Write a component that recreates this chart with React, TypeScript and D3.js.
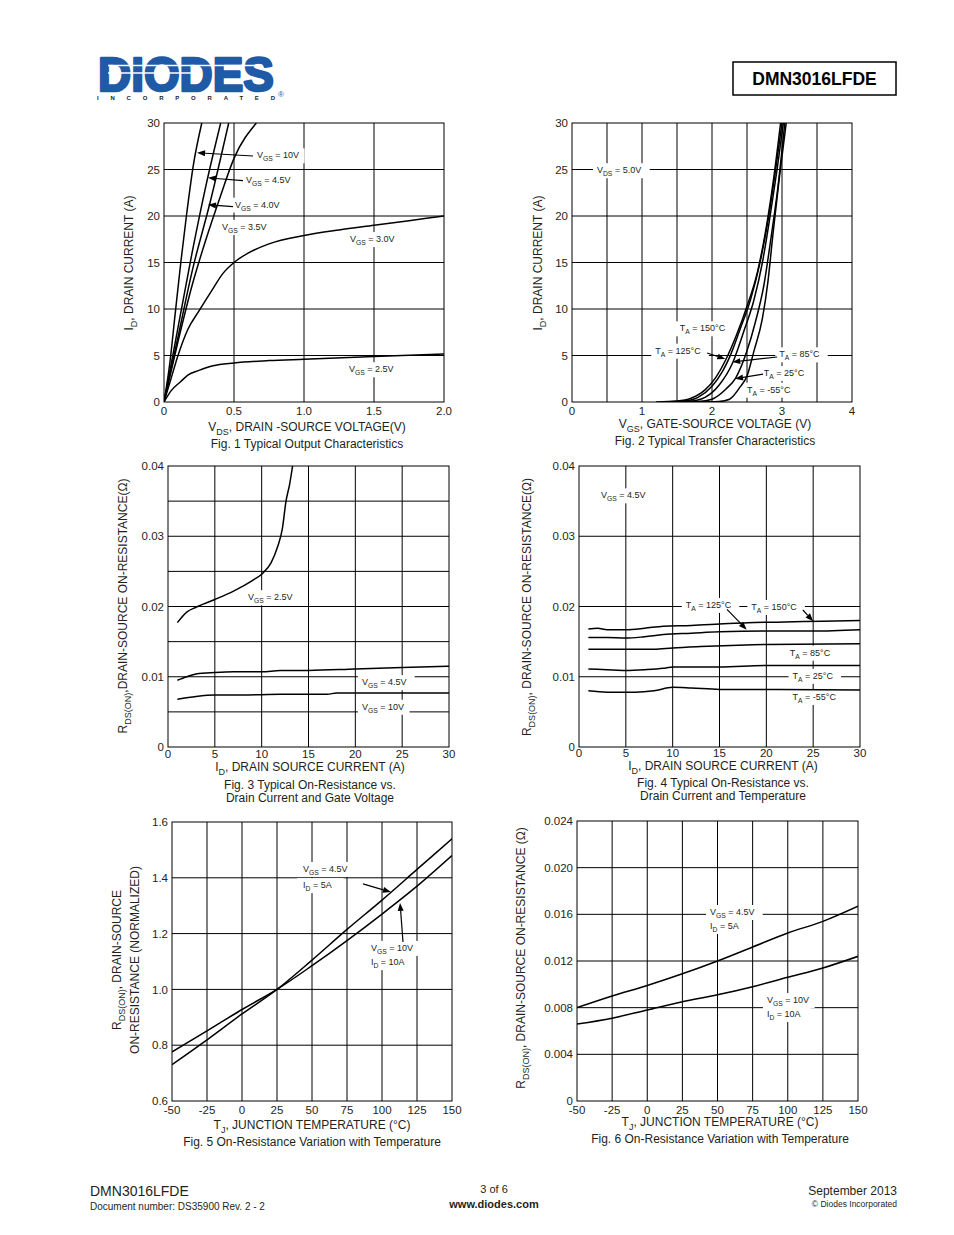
import React from "react";
import * as d3 from "d3";

const FONT = "'Liberation Sans', Arial, Helvetica, sans-serif";
const INK = "#231f20";

type Pt = [number, number];
type Part = string | [string];

// ---- Fig. 1 Typical Output Characteristics (VDS V, ID A)
const f1XTicks = [0, 0.5, 1.0, 1.5, 2.0];
const f1YTicks = [0, 5, 10, 15, 20, 25, 30];
const f1Vgs10: Pt[] = [[0, 0], [0.04, 4], [0.08, 9.5], [0.12, 15], [0.16, 20], [0.21, 25.5], [0.27, 30]];
const f1Vgs45: Pt[] = [[0, 0], [0.1, 8], [0.2, 16], [0.3, 23.3], [0.405, 30]];
const f1Vgs40: Pt[] = [[0, 0], [0.1, 7], [0.2, 14], [0.33, 21.5], [0.462, 30]];
const f1Vgs35: Pt[] = [[0, 0], [0.1, 6.5], [0.2, 12.5], [0.3, 17.5], [0.4, 22], [0.5, 26.2], [0.66, 30]];
const f1Vgs30: Pt[] = [[0, 0], [0.05, 2.5], [0.1, 5], [0.17, 7.8], [0.25, 9.8], [0.35, 12.2], [0.42, 13.8], [0.5, 15], [0.6, 16], [0.75, 17], [1.0, 17.9], [1.25, 18.5], [1.5, 19], [1.75, 19.5], [2.0, 20]];
const f1Vgs25: Pt[] = [[0, 0], [0.05, 1.2], [0.12, 2.2], [0.17, 2.9], [0.25, 3.4], [0.35, 3.9], [0.5, 4.2], [0.75, 4.45], [1.0, 4.6], [1.5, 4.9], [2.0, 5.15]];

// ---- Fig. 2 Typical Transfer Characteristics (VGS V, ID A)
const f2XTicks = [0, 1, 2, 3, 4];
const f2YTicks = [0, 5, 10, 15, 20, 25, 30];
const f2T150: Pt[] = [[1.2, 0], [1.5, 0.1], [1.7, 0.4], [1.9, 1.3], [2.05, 2.6], [2.2, 4.6], [2.35, 7.2], [2.5, 10.3], [2.65, 14], [2.78, 19], [2.88, 24], [2.98, 30]];
const f2T125: Pt[] = [[1.3, 0], [1.6, 0.1], [1.8, 0.5], [2.0, 1.7], [2.15, 3.3], [2.25, 4.8], [2.4, 7.8], [2.55, 11], [2.68, 14.8], [2.8, 19.5], [2.9, 24.5], [3.0, 30]];
const f2T85: Pt[] = [[1.4, 0], [1.7, 0.1], [1.9, 0.5], [2.1, 1.8], [2.3, 4.3], [2.45, 7.5], [2.6, 11], [2.72, 15], [2.83, 20], [2.93, 25], [3.02, 30]];
const f2T25: Pt[] = [[1.5, 0], [1.8, 0.05], [2.0, 0.3], [2.2, 1.4], [2.34, 2.6], [2.5, 5.5], [2.62, 8.6], [2.74, 12.5], [2.84, 17.5], [2.94, 23], [3.04, 30]];
const f2Tm55: Pt[] = [[1.7, 0], [2.1, 0.05], [2.25, 0.3], [2.4, 1.6], [2.5, 2.8], [2.6, 5.5], [2.72, 9], [2.8, 13], [2.87, 18], [2.96, 24], [3.06, 30]];

// ---- Fig. 3 On-resistance vs drain current and gate voltage (ID A, R ohm)
const f3XTicks = [0, 5, 10, 15, 20, 25, 30];
const f3YTicks = [0, 0.01, 0.02, 0.03, 0.04];
const f3Vgs25: Pt[] = [[1, 0.0177], [2, 0.0192], [3, 0.0199], [5, 0.021], [7, 0.0222], [9, 0.0237], [10, 0.0246], [11, 0.0262], [11.7, 0.0285], [12.2, 0.031], [12.6, 0.035], [13, 0.0375], [13.3, 0.04]];
const f3Vgs45: Pt[] = [[1, 0.0095], [2, 0.01], [3, 0.0104], [5, 0.0106], [7, 0.0107], [10, 0.0107], [12, 0.0109], [15, 0.0109], [20, 0.0111], [25, 0.0113], [30, 0.0115]];
const f3Vgs10: Pt[] = [[1, 0.0068], [3, 0.0072], [5, 0.0074], [8, 0.0074], [12, 0.0075], [17, 0.0075], [18, 0.0077], [30, 0.0077]];

// ---- Fig. 4 On-resistance vs drain current and temperature
const f4T150: Pt[] = [[1, 0.0168], [2, 0.0169], [3, 0.0167], [5, 0.0167], [7, 0.0169], [9, 0.0172], [12, 0.0173], [15, 0.0175], [18, 0.0177], [22, 0.0178], [26, 0.0179], [30, 0.018]];
const f4T125: Pt[] = [[1, 0.0156], [3, 0.0156], [5, 0.0155], [7, 0.0157], [9, 0.016], [12, 0.0162], [15, 0.0164], [20, 0.0165], [25, 0.0165], [30, 0.0167]];
const f4T85: Pt[] = [[1, 0.0139], [5, 0.0139], [8, 0.0139], [10, 0.0141], [13, 0.0143], [17, 0.0145], [20, 0.0146], [30, 0.0147]];
const f4T25: Pt[] = [[1, 0.0111], [3, 0.011], [5, 0.0109], [7, 0.011], [9, 0.0112], [10, 0.0114], [15, 0.0114], [20, 0.0116], [30, 0.0116]];
const f4Tm55: Pt[] = [[1, 0.008], [3, 0.0078], [6, 0.0078], [8, 0.008], [10, 0.0085], [12, 0.0084], [15, 0.0082], [20, 0.0082], [30, 0.0081]];

// ---- Fig. 5 normalized on-resistance vs junction temperature
const tjTicks = [-50, -25, 0, 25, 50, 75, 100, 125, 150];
const f5YTicks = [0.6, 0.8, 1.0, 1.2, 1.4, 1.6];
const f5Vgs45: Pt[] = [[-50, 0.73], [-25, 0.819], [0, 0.912], [25, 1.0], [50, 1.105], [75, 1.215], [100, 1.32], [125, 1.43], [150, 1.54]];
const f5Vgs10: Pt[] = [[-50, 0.776], [-25, 0.851], [0, 0.928], [25, 1.0], [50, 1.085], [75, 1.175], [100, 1.27], [125, 1.37], [150, 1.48]];

// ---- Fig. 6 on-resistance vs junction temperature
const f6YTicks = [0, 0.004, 0.008, 0.012, 0.016, 0.02, 0.024];
const f6Vgs45: Pt[] = [[-50, 0.008], [-25, 0.009], [0, 0.0099], [25, 0.0109], [50, 0.012], [75, 0.0132], [100, 0.0144], [125, 0.0154], [150, 0.0167]];
const f6Vgs10: Pt[] = [[-50, 0.0066], [-25, 0.0071], [0, 0.0078], [25, 0.0085], [50, 0.0091], [75, 0.0098], [100, 0.0106], [125, 0.0114], [150, 0.0124]];

function estWidth(parts: Part[], size: number) {
  let w = 0;
  for (const p of parts) {
    if (typeof p === "string") w += p.length * size * 0.56;
    else w += p[0].length * size * 0.75 * 0.62;
  }
  return w;
}

function Txt({ x, y, parts, size = 9, anchor = "start", rotate = false, weight = "normal", fill = INK }: {
  x: number; y: number; parts: Part[]; size?: number; anchor?: string; rotate?: boolean; weight?: string; fill?: string;
}) {
  const sub = size * 0.75;
  const shift = size * 0.32;
  let down = false;
  const spans = parts.map((p, i) => {
    if (typeof p === "string") {
      const dy = down ? -shift : 0;
      down = false;
      return <tspan key={i} dy={dy} fontSize={size}>{p}</tspan>;
    }
    const dy = down ? 0 : shift;
    down = true;
    return <tspan key={i} dy={dy} fontSize={sub}>{p[0]}</tspan>;
  });
  return (
    <text x={rotate ? 0 : x} y={rotate ? 0 : y} fontFamily={FONT} fontSize={size} textAnchor={anchor as any} fontWeight={weight} fill={fill}
      transform={rotate ? `translate(${x},${y}) rotate(-90)` : undefined}>
      {spans}
    </text>
  );
}

interface Lab { at: Pt; parts: Part[]; bg?: boolean; pad?: number }
interface Arr { from: Pt; to: Pt }

function Panel({ id, box, xDomain, yDomain, xGrid, yGrid, xTicks, yTicks, xFmt, yFmt, series, labels = [], arrows = [], tickDy = 13 }: {
  id: string; box: [number, number, number, number]; xDomain: [number, number]; yDomain: [number, number];
  xGrid: number[]; yGrid: number[]; xTicks: number[]; yTicks: number[];
  xFmt: (v: number) => string; yFmt: (v: number) => string; series: Pt[][]; labels?: Lab[]; arrows?: Arr[]; tickDy?: number;
}) {
  const [l, t, r, b] = box;
  const x = d3.scaleLinear().domain(xDomain).range([l, r]);
  const y = d3.scaleLinear().domain(yDomain).range([b, t]);
  const line = d3.line<Pt>().x((d) => x(d[0])).y((d) => y(d[1])).curve(d3.curveMonotoneX);
  const size = 9;
  return (
    <g>
      <defs>
        <clipPath id={id}><rect x={l} y={t} width={r - l} height={b - t} /></clipPath>
      </defs>
      {xGrid.map((v) => <line key={"xg" + v} x1={x(v)} x2={x(v)} y1={t} y2={b} stroke="#000" strokeWidth={1} />)}
      {yGrid.map((v) => <line key={"yg" + v} x1={l} x2={r} y1={y(v)} y2={y(v)} stroke="#000" strokeWidth={1} />)}
      <rect x={l} y={t} width={r - l} height={b - t} fill="none" stroke="#000" strokeWidth={1} />
      {labels.filter((d) => d.bg).map((d, i) => {
        const w = estWidth(d.parts, size);
        const pad = d.pad ?? 4;
        return <rect key={"bg" + i} x={x(d.at[0]) - pad} y={y(d.at[1]) - size - 1} width={w + 2 * pad} height={size + 6} fill="#fff" />;
      })}
      <g clipPath={`url(#${id})`}>
        {series.map((s, i) => <path key={i} d={line(s) ?? ""} fill="none" stroke="#000" strokeWidth={1.5} />)}
      </g>
      {labels.map((d, i) => <Txt key={"lb" + i} x={x(d.at[0])} y={y(d.at[1])} parts={d.parts} size={size} />)}
      {arrows.map((a, i) => {
        const x1 = x(a.from[0]), y1 = y(a.from[1]), x2 = x(a.to[0]), y2 = y(a.to[1]);
        const ang = Math.atan2(y2 - y1, x2 - x1);
        const hl = 8, hw = 3;
        const bx = x2 - hl * Math.cos(ang), by = y2 - hl * Math.sin(ang);
        const px = -Math.sin(ang) * hw, py = Math.cos(ang) * hw;
        return (
          <g key={"ar" + i}>
            <line x1={x1} y1={y1} x2={bx} y2={by} stroke="#000" strokeWidth={1.2} />
            <polygon points={`${x2},${y2} ${bx + px},${by + py} ${bx - px},${by - py}`} fill="#000" />
          </g>
        );
      })}
      {xTicks.map((v) => (
        <text key={"xt" + v} x={x(v)} y={b + tickDy} textAnchor="middle" fontFamily={FONT} fontSize={11.5} fill={INK}>{xFmt(v)}</text>
      ))}
      {yTicks.map((v) => (
        <text key={"yt" + v} x={l - 4} y={y(v)} dy="0.36em" textAnchor="end" fontFamily={FONT} fontSize={11.5} fill={INK}>{yFmt(v)}</text>
      ))}
    </g>
  );
}

const range = (a: number, b: number, s: number) => d3.range(a, b + s / 2, s).map((v) => +v.toFixed(6));
const fmtInt = (v: number) => String(v);
const fmt1 = (v: number) => v.toFixed(1);
const fmtR2 = (v: number) => (v === 0 ? "0" : v.toFixed(2));
const fmtR3 = (v: number) => (v === 0 ? "0" : v.toFixed(3));
const fmtV1 = (v: number) => (v === 0 ? "0" : v.toFixed(1));

function Header() {
  const blue = "#1f5aa6";
  return (
    <g>
      <text x={98} y={91} fontFamily={FONT} fontWeight="bold" fontSize={49} fill={blue} stroke={blue} strokeWidth={2.6} strokeLinejoin="round"
        textLength={176} lengthAdjust="spacingAndGlyphs">DIODES</text>
      <line x1={108} x2={262} y1={65.5} y2={65.5} stroke="#fff" strokeWidth={1.6} />
      <line x1={108} x2={200} y1={73} y2={73} stroke="#fff" strokeWidth={1.6} />
      <text x={97} y={100} fontFamily={FONT} fontWeight="bold" fontSize={6} fill="#222" textLength={178} lengthAdjust="spacing">INCORPORATED</text>
      <text x={278} y={97} fontFamily={FONT} fontSize={8} fill={blue}>®</text>
      <rect x={733} y={62} width={163} height={33} fill="none" stroke="#000" strokeWidth={1.5} />
      <text x={814.5} y={85} textAnchor="middle" fontFamily={FONT} fontWeight="bold" fontSize={17.5} fill="#000">DMN3016LFDE</text>
    </g>
  );
}

function Footer() {
  return (
    <g fontFamily={FONT} fill={INK}>
      <text x={90} y={1196} fontSize={14}>DMN3016LFDE</text>
      <text x={90} y={1210} fontSize={10}>Document number: DS35900 Rev. 2 - 2</text>
      <text x={494} y={1193} fontSize={11} textAnchor="middle">3 of 6</text>
      <text x={494} y={1208} fontSize={11} fontWeight="bold" textAnchor="middle">www.diodes.com</text>
      <text x={897} y={1195} fontSize={12} textAnchor="end">September 2013</text>
      <text x={897} y={1207} fontSize={8.5} textAnchor="end">© Diodes Incorporated</text>
    </g>
  );
}

export default function App() {
  const T = 12;
  return (
    <svg width={954} height={1235} style={{ position: "absolute", left: 0, top: 0, background: "#fff" }}>
      <rect width={954} height={1235} fill="#fff" />
      <Header />

      {/* Fig. 1 */}
      <Panel id="c1" box={[164, 123, 444, 402]} xDomain={[0, 2]} yDomain={[0, 30]}
        xGrid={[0.5, 1, 1.5]} yGrid={[5, 10, 15, 20, 25]} xTicks={f1XTicks} yTicks={f1YTicks}
        xFmt={fmtV1} yFmt={fmtInt}
        series={[f1Vgs10, f1Vgs45, f1Vgs40, f1Vgs35, f1Vgs30, f1Vgs25]}
        labels={[
          { at: [0.664, 26.2], parts: ["V", ["GS"], " = 10V"], bg: true },
          { at: [0.586, 23.5], parts: ["V", ["GS"], " = 4.5V"], bg: true },
          { at: [0.507, 20.9], parts: ["V", ["GS"], " = 4.0V"], bg: true },
          { at: [0.414, 18.5], parts: ["V", ["GS"], " = 3.5V"], bg: true },
          { at: [1.329, 17.2], parts: ["V", ["GS"], " = 3.0V"], bg: true },
          { at: [1.321, 3.2], parts: ["V", ["GS"], " = 2.5V"], bg: true },
        ]}
        arrows={[
          { from: [0.636, 26.45], to: [0.236, 26.8] },
          { from: [0.564, 23.8], to: [0.314, 24.1] },
          { from: [0.493, 21.0], to: [0.314, 21.2] },
        ]} />
      <Txt x={133} y={263} rotate anchor="middle" size={T} parts={["I", ["D"], ", DRAIN CURRENT (A)"]} />
      <Txt x={307} y={431} anchor="middle" size={T} parts={["V", ["DS"], ", DRAIN -SOURCE VOLTAGE(V)"]} />
      <Txt x={307} y={448} anchor="middle" size={T} parts={["Fig. 1 Typical Output Characteristics"]} />

      {/* Fig. 2 */}
      <Panel id="c2" box={[572, 123, 852, 402]} xDomain={[0, 4]} yDomain={[0, 30]}
        xGrid={[0.5, 1, 1.5, 2, 2.5, 3, 3.5]} yGrid={[5, 10, 15, 20, 25]} xTicks={f2XTicks} yTicks={f2YTicks}
        xFmt={fmtInt} yFmt={fmtInt}
        series={[f2T150, f2T125, f2T85, f2T25, f2Tm55]}
        labels={[
          { at: [0.357, 24.6], parts: ["V", ["DS"], " = 5.0V"], bg: true },
          { at: [1.54, 7.6], parts: ["T", ["A"], " = 150°C"], bg: true },
          { at: [1.19, 5.2], parts: ["T", ["A"], " = 125°C"], bg: true },
          { at: [2.96, 4.8], parts: ["T", ["A"], " = 85°C"], bg: true },
          { at: [2.74, 2.8], parts: ["T", ["A"], " = 25°C"], bg: true },
          { at: [2.5, 1.0], parts: ["T", ["A"], " = -55°C"], bg: true, pad: 1 },
        ]}
        arrows={[
          { from: [1.93, 5.27], to: [2.19, 4.62] },
          { from: [2.93, 4.84], to: [2.29, 4.3] },
          { from: [2.73, 3.0], to: [2.33, 2.5] },
        ]} />
      <Txt x={542} y={263} rotate anchor="middle" size={T} parts={["I", ["D"], ", DRAIN CURRENT (A)"]} />
      <Txt x={715} y={428} anchor="middle" size={T} parts={["V", ["GS"], ", GATE-SOURCE VOLTAGE (V)"]} />
      <Txt x={715} y={445} anchor="middle" size={T} parts={["Fig. 2  Typical Transfer Characteristics"]} />

      {/* Fig. 3 */}
      <Panel id="c3" box={[168, 466, 449, 747]} xDomain={[0, 30]} yDomain={[0, 0.04]}
        xGrid={[5, 10, 15, 20, 25]} yGrid={range(0.005, 0.035, 0.005)} xTicks={f3XTicks} yTicks={f3YTicks}
        xFmt={fmtInt} yFmt={fmtR2} tickDy={11}
        series={[f3Vgs25, f3Vgs45, f3Vgs10]}
        labels={[
          { at: [8.54, 0.0209], parts: ["V", ["GS"], " = 2.5V"], bg: true },
          { at: [20.7, 0.0088], parts: ["V", ["GS"], " = 4.5V"], bg: true },
          { at: [20.7, 0.0053], parts: ["V", ["GS"], " = 10V"], bg: true },
        ]} />
      <Txt x={127} y={606} rotate anchor="middle" size={T} parts={["R", ["DS(ON)"], ",DRAIN-SOURCE ON-RESISTANCE(Ω)"]} />
      <Txt x={310} y={771} anchor="middle" size={T} parts={["I", ["D"], ", DRAIN SOURCE CURRENT (A)"]} />
      <Txt x={310} y={789} anchor="middle" size={T} parts={["Fig. 3  Typical On-Resistance vs."]} />
      <Txt x={310} y={802} anchor="middle" size={T} parts={["Drain Current and Gate Voltage"]} />

      {/* Fig. 4 */}
      <Panel id="c4" box={[579, 466, 860, 747]} xDomain={[0, 30]} yDomain={[0, 0.04]}
        xGrid={[5, 10, 15, 20, 25]} yGrid={[0.01, 0.02, 0.03]} xTicks={f3XTicks} yTicks={f3YTicks}
        xFmt={fmtInt} yFmt={fmtR2} tickDy={10}
        series={[f4T150, f4T125, f4T85, f4T25, f4Tm55]}
        labels={[
          { at: [2.35, 0.0354], parts: ["V", ["GS"], " = 4.5V"], bg: true },
          { at: [11.4, 0.0198], parts: ["T", ["A"], " = 125°C"], bg: true },
          { at: [18.4, 0.0195], parts: ["T", ["A"], " = 150°C"], bg: true },
          { at: [22.5, 0.013], parts: ["T", ["A"], " = 85°C"], bg: true },
          { at: [22.8, 0.0097], parts: ["T", ["A"], " = 25°C"], bg: true },
          { at: [22.8, 0.0067], parts: ["T", ["A"], " = -55°C"], bg: true },
        ]}
        arrows={[
          { from: [15.8, 0.0196], to: [17.9, 0.0167] },
          { from: [23.9, 0.0195], to: [25.0, 0.0179] },
        ]} />
      <Txt x={531} y={607} rotate anchor="middle" size={T} parts={["R", ["DS(ON)"], ", DRAIN-SOURCE ON-RESISTANCE(Ω)"]} />
      <Txt x={723} y={770} anchor="middle" size={T} parts={["I", ["D"], ", DRAIN SOURCE CURRENT (A)"]} />
      <Txt x={723} y={787} anchor="middle" size={T} parts={["Fig. 4  Typical On-Resistance vs."]} />
      <Txt x={723} y={800} anchor="middle" size={T} parts={["Drain Current and Temperature"]} />

      {/* Fig. 5 */}
      <Panel id="c5" box={[172, 822, 452, 1101]} xDomain={[-50, 150]} yDomain={[0.6, 1.6]}
        xGrid={range(-25, 125, 25)} yGrid={[0.8, 1.0, 1.2, 1.4]} xTicks={tjTicks} yTicks={f5YTicks}
        xFmt={fmtInt} yFmt={fmt1}
        series={[f5Vgs45, f5Vgs10]}
        labels={[
          { at: [43.6, 1.421], parts: ["V", ["GS"], " = 4.5V"], bg: true, pad: 6 },
          { at: [43.6, 1.363], parts: ["I", ["D"], " = 5A"], bg: true, pad: 6 },
          { at: [92.1, 1.138], parts: ["V", ["GS"], " = 10V"], bg: true },
          { at: [92.1, 1.087], parts: ["I", ["D"], " = 10A"], bg: true },
        ]}
        arrows={[
          { from: [86.4, 1.378], to: [106.4, 1.349] },
          { from: [115, 1.17], to: [112.9, 1.31] },
        ]} />
      <Txt x={121} y={960} rotate anchor="middle" size={T} parts={["R", ["DS(ON)"], ", DRAIN-SOURCE"]} />
      <Txt x={139} y={960} rotate anchor="middle" size={T} parts={["ON-RESISTANCE (NORMALIZED)"]} />
      <Txt x={312} y={1129} anchor="middle" size={T} parts={["T", ["J"], ", JUNCTION TEMPERATURE (°C)"]} />
      <Txt x={312} y={1146} anchor="middle" size={T} parts={["Fig. 5  On-Resistance Variation with Temperature"]} />

      {/* Fig. 6 */}
      <Panel id="c6" box={[577, 821, 858, 1101]} xDomain={[-50, 150]} yDomain={[0, 0.024]}
        xGrid={range(-25, 125, 25)} yGrid={range(0.004, 0.02, 0.004)} xTicks={tjTicks} yTicks={f6YTicks}
        xFmt={fmtInt} yFmt={fmtR3}
        series={[f6Vgs45, f6Vgs10]}
        labels={[
          { at: [44.7, 0.01594], parts: ["V", ["GS"], " = 4.5V"], bg: true },
          { at: [44.7, 0.01474], parts: ["I", ["D"], " = 5A"], bg: true },
          { at: [85.2, 0.0084], parts: ["V", ["GS"], " = 10V"], bg: true },
          { at: [85.2, 0.0072], parts: ["I", ["D"], " = 10A"], bg: true },
        ]} />
      <Txt x={525} y={958} rotate anchor="middle" size={T} parts={["R", ["DS(ON)"], ", DRAIN-SOURCE ON-RESISTANCE (Ω)"]} />
      <Txt x={720} y={1126} anchor="middle" size={T} parts={["T", ["J"], ", JUNCTION TEMPERATURE (°C)"]} />
      <Txt x={720} y={1143} anchor="middle" size={T} parts={["Fig. 6  On-Resistance Variation with Temperature"]} />

      <Footer />
    </svg>
  );
}
